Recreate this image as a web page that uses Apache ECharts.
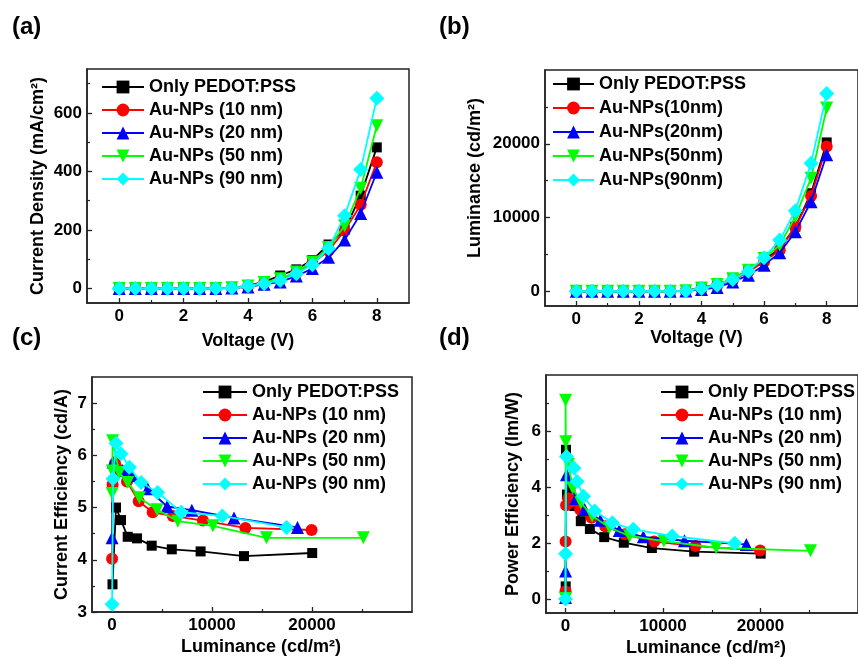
<!DOCTYPE html>
<html><head><meta charset="utf-8">
<script src="https://cdn.jsdelivr.net/npm/echarts@6/dist/echarts.min.js"></script>
<style>html,body{margin:0;padding:0;background:#fff}#c{width:858px;height:658px}</style>
</head><body><div id="c"></div>
<script>
// ---------- names ----------
const names = ['Only PEDOT:PSS','Au-NPs (10 nm)','Au-NPs (20 nm)','Au-NPs (50 nm)','Au-NPs (90 nm)'];
const namesB = ['Only PEDOT:PSS','Au-NPs(10nm)','Au-NPs(20nm)','Au-NPs(50nm)','Au-NPs(90nm)'];

// ---------- (a) current density vs voltage ----------
const voltage = [0,0.5,1,1.5,2,2.5,3,3.5,4,4.5,5,5.5,6,6.5,7,7.5,8];
const jBlack = [0,0,0,0,0,0,0,2,9,22,44,65,97,150,200,317,482];
const jRed   = [0,0,0,0,0,0,0,1,7,18,30,52,85,129,197,286,431];
const jBlue  = [0,0,0,0,0,0,0,1,5,14,22,42,68,106,165,256,397];
const jGreen = [0,0,0,0,0,0,0,2,8,20,33,56,90,140,214,342,556];
const jCyan  = [0,0,0,0,0,0,0,1,8,16,27,50,81,136,248,406,650];

// ---------- (b) luminance vs voltage ----------
const lBlack = [0,0,0,0,0,0,0,60,500,900,1650,2900,4220,5800,8750,13290,20180];
const lRed   = [0,0,0,0,0,0,0,40,400,800,1500,2630,3990,5580,8750,12925,19640];
const lBlue  = [0,0,0,0,0,0,0,20,250,500,1270,2180,3540,5215,8070,12150,18500];
const lGreen = [0,0,0,0,0,0,0,60,450,900,1700,2860,4440,6260,10110,15330,24850];
const lCyan  = [0,0,0,0,0,0,0,50,360,816,1590,2720,4535,6940,10930,17370,26800];

// ---------- (c) current efficiency vs luminance ----------
const ceLumBlack = [50,400,900,1570,2500,3970,5980,8860,13200,20020];
const ceBlack    = [3.53,5.00,4.76,4.44,4.41,4.27,4.20,4.16,4.07,4.13];
const ceLumRed   = [10,60,300,730,1500,2670,4070,6080,9090,13340,19960];
const ceRed      = [4.02,5.44,5.85,5.72,5.50,5.12,4.91,4.84,4.75,4.61,4.57];
const ceLumBlue  = [10,100,1060,1970,3570,5510,7980,12200,18550];
const ceBlue     = [4.42,5.87,5.71,5.61,5.36,5.02,4.95,4.80,4.62];
const ceLumGreen = [10,30,60,730,1570,2740,4500,6580,10090,15450,25130];
const ceGreen    = [5.27,5.70,6.28,5.67,5.48,5.19,4.96,4.74,4.65,4.42,4.42];
const ceLumCyan  = [10,100,400,900,1740,2910,4570,6920,11030,17450];
const ceCyan     = [3.15,5.55,6.23,6.03,5.77,5.48,5.29,4.91,4.84,4.62];

// ---------- (d) power efficiency vs luminance ----------
const peLumBlack = [20,50,150,500,900,1570,2500,3970,5980,8860,13200,20020];
const peBlack    = [0.45,5.33,3.73,3.93,3.32,2.78,2.50,2.21,2.01,1.82,1.69,1.62];
const peLumRed   = [0,10,60,300,730,1500,2670,4070,6080,9090,13340,19960];
const peRed      = [0.28,2.05,3.35,3.60,3.49,3.20,2.90,2.60,2.31,2.05,1.89,1.73];
const peLumBlue  = [0,10,100,1060,1970,3570,5510,7980,12200,18550];
const peBlue     = [0.05,1.00,4.44,3.59,3.20,2.81,2.45,2.22,2.08,1.95];
const peLumGreen = [0,10,30,300,730,1570,2740,4500,6580,10090,15450,25130];
const peGreen    = [0.02,7.10,5.62,4.80,3.96,3.44,2.96,2.55,2.25,2.07,1.83,1.72];
const peLumCyan  = [0,10,100,860,1190,1850,3000,4810,6950,10940,17360];
const peCyan     = [0.00,1.62,5.09,4.68,4.20,3.67,3.14,2.72,2.49,2.25,1.99];

// ---------- tick values ----------
const vMajor = [0,2,4,6,8], vMinor = [1,3,5,7];
const aMajor = [0,200,400,600], aMinor = [100,300,500,700];
const bMajor = [0,10000,20000], bMinor = [5000,15000,25000];
const lumMajor = [0,10000,20000], lumMinor = [5000,15000,25000];
const cMajor = [3,4,5,6,7], cMinor = [3.5,4.5,5.5,6.5];
const dMajor = [0,2,4,6], dMinor = [1,3,5,7];

// ---------- style ----------
const FONT = 'Liberation Sans, Arial, sans-serif';
const colors = ['#000000','#ff0000','#0000ff','#00ff00','#00ffff'];
const symbols = ['rect','circle','triangle','path://M0,0 L10,0 L5,9 Z','diamond'];
const sizes = [10,12,13,13,15];
const axisColor = '#222';

function zip(a,b){ return a.map((v,i)=>[v,b[i]]); }

function axisPair(dim, gi, min, max, step, majors, minors, name, nameGap, namePad) {
  const pos = dim === 'x' ? 'bottom' : 'left';
  const main = {
    type:'value', gridIndex:gi, min, max, interval:step, position:pos,
    axisLine:{show:true, onZero:false, lineStyle:{color:axisColor, width:1.5}},
    axisTick:{show:true, inside:true, length:5, customValues:majors, lineStyle:{color:axisColor, width:1.3}},
    axisLabel:{show:true, customValues:majors, fontSize:17, fontWeight:'bold', fontFamily:FONT, color:'#000', margin:5,
      formatter: v => String(v)},
    splitLine:{show:false},
    name, nameLocation:'middle', nameGap,
    nameTextStyle:{fontSize:18, fontWeight:'bold', fontFamily:FONT, color:'#000', padding:namePad || 0}
  };
  const minor = {
    type:'value', gridIndex:gi, min, max, interval:step, position:pos, offset:0,
    axisLine:{show:false, onZero:false},
    axisTick:{show:true, inside:true, length:3, customValues:minors, lineStyle:{color:axisColor, width:1.2}},
    axisLabel:{show:false},
    splitLine:{show:false}
  };
  return [main, minor];
}

const grids = [
  {left:87,  top:69,  width:322, height:234},
  {left:545, top:70,  width:321, height:236},
  {left:92,  top:377, width:320, height:235},
  {left:546, top:375, width:324, height:238}
].map(g => Object.assign(g, {show:true, borderColor:axisColor, borderWidth:1.5, backgroundColor:'transparent', containLabel:false}));

const xAxes = [].concat(
  axisPair('x',0,-1,9,1,vMajor,vMinor,'Voltage (V)',29),
  axisPair('x',1,-1,9,1,vMajor,vMinor,'Voltage (V)',22,[0,10,0,0]),
  axisPair('x',2,-2000,30000,1000,lumMajor,lumMinor,'Luminance (cd/m²)',26,[0,0,0,18]),
  axisPair('x',3,-2000,30000,1000,lumMajor,lumMinor,'Luminance (cd/m²)',26,[0,0,0,8])
);
const yAxes = [].concat(
  axisPair('y',0,-50,750,50,aMajor,aMinor,'Current Density (mA/cm²)',40),
  axisPair('y',1,-2000,30000,1000,bMajor,bMinor,'Luminance (cd/m²)',61,[0,0,0,20]),
  axisPair('y',2,3,7.5,0.5,cMajor,cMinor,'Current Efficiency (cd/A)',21),
  axisPair('y',3,-0.5,8,0.5,dMajor,dMinor,'Power Efficiency (lm/W)',24)
);

const panelData = [
  [zip(voltage,jBlack), zip(voltage,jRed), zip(voltage,jBlue), zip(voltage,jGreen), zip(voltage,jCyan)],
  [zip(voltage,lBlack), zip(voltage,lRed), zip(voltage,lBlue), zip(voltage,lGreen), zip(voltage,lCyan)],
  [zip(ceLumBlack,ceBlack), zip(ceLumRed,ceRed), zip(ceLumBlue,ceBlue), zip(ceLumGreen,ceGreen), zip(ceLumCyan,ceCyan)],
  [zip(peLumBlack,peBlack), zip(peLumRed,peRed), zip(peLumBlue,peBlue), zip(peLumGreen,peGreen), zip(peLumCyan,peCyan)]
];

const series = [];
panelData.forEach((sets, p) => {
  sets.forEach((d, i) => {
    series.push({
      type:'line', name: p === 1 ? namesB[i] : names[i],
      xAxisIndex: p*2, yAxisIndex: p*2, data: d,
      symbol: symbols[i], symbolSize: sizes[i], showSymbol:true, showAllSymbol:true,
      lineStyle:{color:colors[i], width:1.8}, itemStyle:{color:colors[i]},
      animation:false, clip:false, z: 2 + i
    });
  });
});

function legend(left, top, data, w, gap) {
  return {
    orient:'vertical', left, top, data, itemWidth:w, itemHeight:16, itemGap:gap, padding:0,
    textStyle:{fontSize:18, fontWeight:'bold', fontFamily:FONT, color:'#000', lineHeight:18},
    selectedMode:false
  };
}

const option = {
  backgroundColor:'#fff',
  animation:false,
  grid: grids,
  xAxis: xAxes,
  yAxis: yAxes,
  legend: [
    legend(101, 78, names, 42, 5),
    legend(552, 75, namesB, 41, 6),
    legend(202, 383, names, 44, 5),
    legend(660, 383, names, 42, 5)
  ],
  graphic: [
    {type:'text', left:12, top:15, style:{text:'(a)', font:'bold 24px '+FONT, fill:'#000'}},
    {type:'text', left:439, top:15, style:{text:'(b)', font:'bold 24px '+FONT, fill:'#000'}},
    {type:'text', left:12, top:326, style:{text:'(c)', font:'bold 24px '+FONT, fill:'#000'}},
    {type:'text', left:439, top:326, style:{text:'(d)', font:'bold 24px '+FONT, fill:'#000'}}
  ],
  series
};

const chart = echarts.init(document.getElementById('c'), null, {renderer:'canvas'});
chart.setOption(option);
</script>
</body></html>
